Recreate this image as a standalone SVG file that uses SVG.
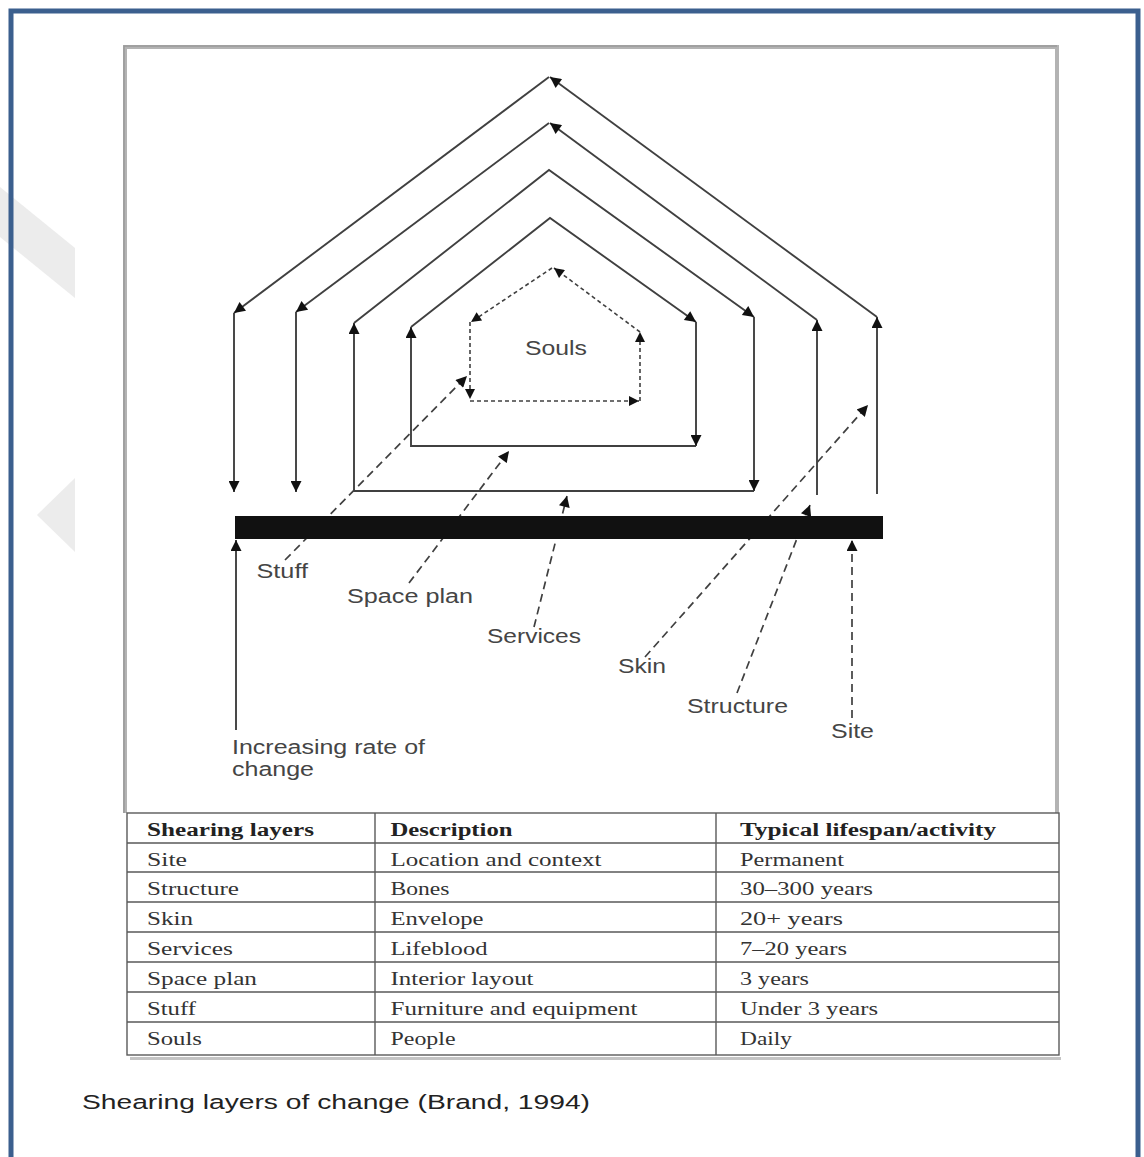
<svg xmlns="http://www.w3.org/2000/svg" width="1144" height="1157" viewBox="0 0 1144 1157">
<defs>
<style>
.ln{fill:none;stroke:#404040;stroke-width:1.9}
.dl{fill:none;stroke:#404040;stroke-width:1.7;stroke-dasharray:8 5}
.ds{fill:none;stroke:#404040;stroke-width:1.6;stroke-dasharray:4 3}
.lab{font-family:"Liberation Sans",Arial,sans-serif;font-size:20px;fill:#454545}
.tb{font-family:"Liberation Serif","Times New Roman",serif;font-size:18.5px;fill:#333}
.th{font-family:"Liberation Serif","Times New Roman",serif;font-size:18.5px;fill:#222;font-weight:bold}
.grid{stroke:#5a5a5a;stroke-width:1.4;fill:none}
</style>
<marker id="ah" viewBox="0 0 10 10" refX="10" refY="5" markerWidth="13" markerHeight="11" markerUnits="userSpaceOnUse" orient="auto">
<path d="M0,0 L10,5 L0,10 z" fill="#111"/>
</marker>
<marker id="as" viewBox="0 0 10 10" refX="10" refY="5" markerWidth="12" markerHeight="10" markerUnits="userSpaceOnUse" orient="auto">
<path d="M0,0 L10,5 L0,10 z" fill="#111"/>
</marker>
</defs>
<rect width="1144" height="1157" fill="#fff"/>
<!-- watermark -->
<polygon points="0,187 75,248 75,298 0,237" fill="#ececec"/>
<polygon points="37,515 75,478 75,552" fill="#ececec"/>
<!-- blue outer border -->
<rect x="11" y="11" width="1127" height="1160" fill="none" stroke="#3b5f8e" stroke-width="5"/>
<!-- inner gray frame -->
<path d="M125,813 V47 H1057 V813" fill="none" stroke="#b3b3b3" stroke-width="4"/>
<path d="M124,813 V46 H1057" fill="none" stroke="#9a9a9a" stroke-width="1.5"/>

<g id="connectors">
  <!-- outer layer -->
  <line class="ln" x1="877" y1="494" x2="877" y2="317" marker-end="url(#ah)"/>
  <line class="ln" x1="877" y1="317" x2="550" y2="77" marker-end="url(#ah)"/>
  <line class="ln" x1="549" y1="77" x2="234" y2="313" marker-end="url(#ah)"/>
  <line class="ln" x1="234" y1="313" x2="234" y2="492" marker-end="url(#ah)"/>
  <!-- layer 2 -->
  <line class="ln" x1="817" y1="495" x2="817" y2="320" marker-end="url(#ah)"/>
  <line class="ln" x1="817" y1="320" x2="550" y2="123" marker-end="url(#ah)"/>
  <line class="ln" x1="549" y1="123" x2="296" y2="312" marker-end="url(#ah)"/>
  <line class="ln" x1="296" y1="312" x2="296" y2="492" marker-end="url(#ah)"/>
  <!-- layer 3 -->
  <polyline class="ln" points="754,491 354,491 354,323" marker-end="url(#ah)"/>
  <polyline class="ln" points="354,323 549,170 754,317" marker-end="url(#ah)"/>
  <line class="ln" x1="754" y1="317" x2="754" y2="491" marker-end="url(#ah)"/>
  <!-- layer 4 -->
  <polyline class="ln" points="696,446 411,446 411,327" marker-end="url(#ah)"/>
  <polyline class="ln" points="411,327 550,218 696,322" marker-end="url(#ah)"/>
  <line class="ln" x1="696" y1="322" x2="696" y2="446" marker-end="url(#ah)"/>
  <!-- souls (dashed) -->
  <line class="ds" x1="640" y1="332" x2="554" y2="268" marker-end="url(#as)"/>
  <line class="ds" x1="552" y1="268" x2="471" y2="322" marker-end="url(#as)"/>
  <line class="ds" x1="470" y1="322" x2="470" y2="399" marker-end="url(#as)"/>
  <line class="ds" x1="470" y1="401" x2="639" y2="401" marker-end="url(#as)"/>
  <line class="ds" x1="640" y1="401" x2="640" y2="332" marker-end="url(#as)"/>
  <!-- leader lines -->
  <line class="dl" x1="285" y1="560" x2="467" y2="376" marker-end="url(#ah)"/>
  <line class="dl" x1="409" y1="583" x2="509" y2="451" marker-end="url(#ah)"/>
  <line class="dl" x1="534" y1="627" x2="567" y2="496" marker-end="url(#ah)"/>
  <line class="dl" x1="645" y1="657" x2="868" y2="405" marker-end="url(#ah)"/>
  <line class="dl" x1="737" y1="693" x2="810" y2="505" marker-end="url(#ah)"/>
  <line class="dl" x1="852" y1="718" x2="852" y2="540" marker-end="url(#ah)"/>
  <line class="ln" x1="236" y1="730" x2="236" y2="540" marker-end="url(#ah)"/>
</g>

<g id="ground">
  <rect x="235" y="516" width="648" height="23" fill="#111"/>
</g>

<g id="souls"><text class="lab" x="525" y="355" textLength="62" lengthAdjust="spacingAndGlyphs" fill="#555">Souls</text></g>
<g id="stuff"><text class="lab" x="256.5" y="578" textLength="51.5" lengthAdjust="spacingAndGlyphs">Stuff</text></g>
<g id="space-plan"><text class="lab" x="347" y="603" textLength="126" lengthAdjust="spacingAndGlyphs">Space plan</text></g>
<g id="services"><text class="lab" x="487" y="643" textLength="94" lengthAdjust="spacingAndGlyphs">Services</text></g>
<g id="skin"><text class="lab" x="618" y="673" textLength="48" lengthAdjust="spacingAndGlyphs">Skin</text></g>
<g id="structure"><text class="lab" x="687" y="713" textLength="101" lengthAdjust="spacingAndGlyphs">Structure</text></g>
<g id="site"><text class="lab" x="831" y="738" textLength="43" lengthAdjust="spacingAndGlyphs">Site</text></g>
<g id="rate"><text class="lab" x="232" y="754" textLength="193" lengthAdjust="spacingAndGlyphs">Increasing rate of</text><text class="lab" x="232" y="776" textLength="82" lengthAdjust="spacingAndGlyphs">change</text></g>

<g id="table">
  <line x1="130" y1="1058.5" x2="1061" y2="1058.5" stroke="#c4c4c4" stroke-width="3"/>
  <rect class="grid" x="127" y="813" width="932" height="242" fill="#fff"/>
  <path class="grid" d="M127,843 H1059 M127,872 H1059 M127,902 H1059 M127,932 H1059 M127,962 H1059 M127,992 H1059 M127,1022 H1059 M375,813 V1055 M716,813 V1055"/>
  <text class="th" x="147" y="836" textLength="167" lengthAdjust="spacingAndGlyphs">Shearing layers</text>
  <text class="th" x="390.5" y="836" textLength="122" lengthAdjust="spacingAndGlyphs">Description</text>
  <text class="th" x="740" y="836" textLength="256" lengthAdjust="spacingAndGlyphs">Typical lifespan/activity</text>

  <text class="tb" x="147" y="866" textLength="40" lengthAdjust="spacingAndGlyphs">Site</text>
  <text class="tb" x="390.5" y="866" textLength="211" lengthAdjust="spacingAndGlyphs">Location and context</text>
  <text class="tb" x="740" y="866" textLength="104" lengthAdjust="spacingAndGlyphs">Permanent</text>

  <text class="tb" x="147" y="895" textLength="92" lengthAdjust="spacingAndGlyphs">Structure</text>
  <text class="tb" x="390.5" y="895" textLength="59" lengthAdjust="spacingAndGlyphs">Bones</text>
  <text class="tb" x="740" y="895" textLength="133" lengthAdjust="spacingAndGlyphs">30–300 years</text>

  <text class="tb" x="147" y="925" textLength="46" lengthAdjust="spacingAndGlyphs">Skin</text>
  <text class="tb" x="390.5" y="925" textLength="93" lengthAdjust="spacingAndGlyphs">Envelope</text>
  <text class="tb" x="740" y="925" textLength="103" lengthAdjust="spacingAndGlyphs">20+ years</text>

  <text class="tb" x="147" y="955" textLength="86" lengthAdjust="spacingAndGlyphs">Services</text>
  <text class="tb" x="390.5" y="955" textLength="97" lengthAdjust="spacingAndGlyphs">Lifeblood</text>
  <text class="tb" x="740" y="955" textLength="107" lengthAdjust="spacingAndGlyphs">7–20 years</text>

  <text class="tb" x="147" y="985" textLength="110" lengthAdjust="spacingAndGlyphs">Space plan</text>
  <text class="tb" x="390.5" y="985" textLength="143" lengthAdjust="spacingAndGlyphs">Interior layout</text>
  <text class="tb" x="740" y="985" textLength="69" lengthAdjust="spacingAndGlyphs">3 years</text>

  <text class="tb" x="147" y="1015" textLength="49" lengthAdjust="spacingAndGlyphs">Stuff</text>
  <text class="tb" x="390.5" y="1015" textLength="247" lengthAdjust="spacingAndGlyphs">Furniture and equipment</text>
  <text class="tb" x="740" y="1015" textLength="138" lengthAdjust="spacingAndGlyphs">Under 3 years</text>

  <text class="tb" x="147" y="1045" textLength="55" lengthAdjust="spacingAndGlyphs">Souls</text>
  <text class="tb" x="390.5" y="1045" textLength="65" lengthAdjust="spacingAndGlyphs">People</text>
  <text class="tb" x="740" y="1045" textLength="52" lengthAdjust="spacingAndGlyphs">Daily</text>
</g>

<g id="caption"><text x="82" y="1109" font-family="'Liberation Sans',Arial,sans-serif" font-size="20.5" fill="#222" textLength="508" lengthAdjust="spacingAndGlyphs">Shearing layers of change (Brand, 1994)</text></g>
</svg>
